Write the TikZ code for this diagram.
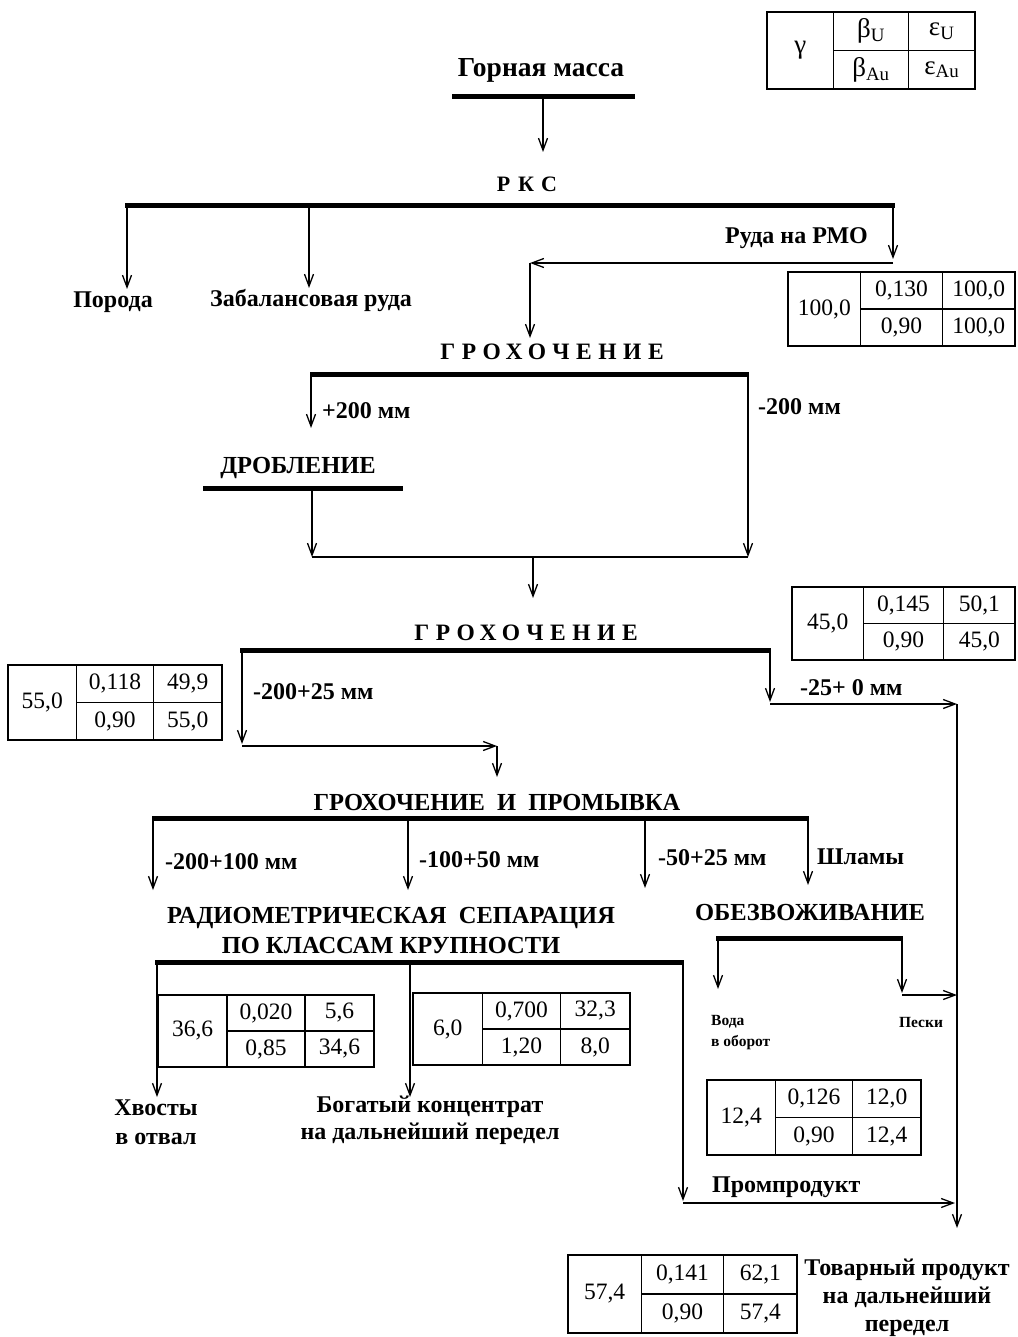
\documentclass[tikz,border=0pt]{standalone}
\usepackage{fontspec}
\setmainfont{Liberation Serif}
\usetikzlibrary{arrows.meta,calc}

\newcommand\datatable[8]{%
 \coordinate (#1-nw) at #2; \coordinate (#1-se) at #3;
 \coordinate (#1-a) at ($(#1-nw)!0.32!(#1-se)$);
 \coordinate (#1-b) at ($(#1-nw)!0.68!(#1-se)$);
 \coordinate (#1-m) at ($(#1-nw)!0.5!(#1-se)$);
 \coordinate (#1-c1) at ($(#1-nw)!0.16!(#1-se)$);
 \coordinate (#1-c2) at ($(#1-nw)!0.50!(#1-se)$);
 \coordinate (#1-c3) at ($(#1-nw)!0.84!(#1-se)$);
 \coordinate (#1-r1) at ($(#1-nw)!0.25!(#1-se)$);
 \coordinate (#1-r2) at ($(#1-nw)!0.75!(#1-se)$);
 \draw[tb] (#1-nw) rectangle (#1-se);
 \draw[tb] (#1-a |- #1-nw) -- (#1-a |- #1-se);
 \draw[tb] (#1-b |- #1-nw) -- (#1-b |- #1-se);
 \draw[tb] (#1-a |- #1-m) -- (#1-se |- #1-m);
 \node[num] (#1-g) at (#1-c1 |- #1-m) {#4};
 \node[num] (#1-bu) at (#1-c2 |- #1-r1) {#5};
 \node[num] (#1-eu) at (#1-c3 |- #1-r1) {#6};
 \node[num] (#1-ba) at (#1-c2 |- #1-r2) {#7};
 \node[num] (#1-ea) at (#1-c3 |- #1-r2) {#8};
}

\begin{document}
\begin{tikzpicture}[x=1pt,y=-1pt,
  lbl/.style={font=\bfseries\fontsize{24}{27}\selectfont, inner sep=0pt},
  small/.style={font=\bfseries\fontsize{15.5}{21}\selectfont, inner sep=0pt, align=left},
  ttl/.style={font=\bfseries\fontsize{24.5}{30}\selectfont, inner sep=0pt, align=center},
  spaced/.style={font=\bfseries\fontsize{23.5}{26}\selectfont\addfontfeature{LetterSpace=28}, inner sep=0pt},
  num/.style={font=\fontsize{23.5}{26}\selectfont, inner sep=0pt},
  bar/.style={line width=5pt},
  ln/.style={line width=1.3pt},
  tb/.style={line width=1.3pt},
  flow/.style={line width=1.3pt, -{Straight Barb[length=12pt,width=9pt]}}]
\useasboundingbox (0,0) rectangle (1017,1337);

% legend
\begin{scope}[num/.append style={font=\fontsize{27}{30}\selectfont}]
\datatable{lg}{(767,12)}{(975,89)}{γ}{β\textsubscript{U}}{ε\textsubscript{U}}{β\textsubscript{Au}}{ε\textsubscript{Au}}
\end{scope}

% Gornaya massa
\node[lbl, font=\bfseries\fontsize{27.5}{30}\selectfont] (gm) at (541,70) {Горная масса};
\coordinate (b1w) at (452,97); \coordinate (b1e) at (635,97);
\draw[bar] (b1w) -- (b1e);
\coordinate (b1o) at (543,97); \coordinate (rksin) at (543,152);
\draw[flow] (b1o) -- (rksin);

% RKS
\node[spaced, font=\bfseries\fontsize{22}{26}\selectfont\addfontfeature{LetterSpace=35}] (rks) at (527,184) {РКС};
\coordinate (b2w) at (125,206); \coordinate (b2e) at (895,206);
\draw[bar] (b2w) -- (b2e);
\coordinate (b2a) at (127,206); \coordinate (b2b) at (309,206); \coordinate (b2c) at (893,206);
\node[lbl] (por) at (113,302) {Порода};
\node[lbl] (zab) at (311,300) {Забалансовая руда};
\coordinate (pora) at (127,289); \coordinate (zaba) at (309,288);
\draw[flow] (b2a) -- (pora);
\draw[flow] (b2b) -- (zaba);
\node[lbl, anchor=east] (rmo) at (868,238) {Руда на РМО};
\coordinate (rmo1) at (893,259); \coordinate (rmo2) at (893,263); \coordinate (rmo3) at (530,263);
\coordinate (gr1in) at (530,338);
\draw[flow] (b2c) -- (rmo1);
\draw[flow] (rmo2) -- (rmo3);
\draw[flow] (rmo3) -- (gr1in);

\datatable{ta}{(788,272)}{(1015,346)}{100,0}{0,130}{100,0}{0,90}{100,0}

% Grokhochenie 1
\node[spaced] (gr1) at (552,352) {ГРОХОЧЕНИЕ};
\coordinate (b3w) at (310,374); \coordinate (b3e) at (749,374);
\draw[bar] (b3w) -- (b3e);
\coordinate (b3a) at (311,374); \coordinate (b3b) at (748,374);
\coordinate (p200) at (311,428);
\draw[flow] (b3a) -- (p200);
\node[lbl, anchor=west] (lp200) at (322,411) {+200 мм};
\coordinate (m200) at (748,557);
\draw[flow] (b3b) -- (m200);
\node[lbl, anchor=west] (lm200) at (758,407) {-200 мм};

% Droblenie
\node[ttl] (drob) at (298,468) {ДРОБЛЕНИЕ};
\coordinate (b4w) at (203,488); \coordinate (b4e) at (403,488);
\draw[bar] (b4w) -- (b4e);
\coordinate (b4o) at (312,488); \coordinate (j1) at (312,557);
\draw[flow] (b4o) -- (j1);
\coordinate (j2) at (748,557);
\draw[ln] (j1) -- (j2);
\coordinate (j3) at (533,557); \coordinate (j4) at (533,598);
\draw[flow] (j3) -- (j4);

\datatable{tb}{(792,587)}{(1015,660)}{45,0}{0,145}{50,1}{0,90}{45,0}
\datatable{tc}{(8,665)}{(222,740)}{55,0}{0,118}{49,9}{0,90}{55,0}

% Grokhochenie 2
\node[spaced] (gr2) at (526,633) {ГРОХОЧЕНИЕ};
\coordinate (b5w) at (240,650); \coordinate (b5e) at (771,650);
\draw[bar] (b5w) -- (b5e);
\coordinate (b5a) at (242,650); \coordinate (k1) at (242,744);
\draw[flow] (b5a) -- (k1);
\node[lbl, anchor=west] (l20025) at (253,692) {-200+25 мм};
\coordinate (k2) at (242,746); \coordinate (k3) at (497,746); \coordinate (k4) at (497,777);
\draw[flow] (k2) -- (k3);
\draw[flow] (k3) -- (k4);
\coordinate (b5b) at (770,650); \coordinate (r1) at (770,702);
\draw[flow] (b5b) -- (r1);
\node[lbl, anchor=west] (l250) at (800,688) {-25+ 0 мм};
\coordinate (r2) at (770,704); \coordinate (r3) at (957,704); \coordinate (r4) at (957,1228);
\draw[flow] (r2) -- (r3);
\draw[flow] (r3) -- (r4);

% Grokhochenie i promyvka
\node[ttl] (gip) at (497,802) {ГРОХОЧЕНИЕ\enspace И\enspace ПРОМЫВКА};
\coordinate (b6w) at (152,818); \coordinate (b6e) at (809,818);
\draw[bar] (b6w) -- (b6e);
\coordinate (b6a) at (153,818); \coordinate (b6b) at (408,818); \coordinate (b6c) at (645,818); \coordinate (b6d) at (808,818);
\coordinate (s1) at (153,890); \coordinate (s2) at (408,890); \coordinate (s3) at (645,888); \coordinate (s4) at (808,885);
\draw[flow] (b6a) -- (s1);
\draw[flow] (b6b) -- (s2);
\draw[flow] (b6c) -- (s3);
\draw[flow] (b6d) -- (s4);
\node[lbl, anchor=west] (c1) at (165,862) {-200+100 мм};
\node[lbl, anchor=west] (c2) at (419,860) {-100+50 мм};
\node[lbl, anchor=west] (c3) at (658,858) {-50+25 мм};
\node[lbl, anchor=west] (c4) at (817,857) {Шламы};

% Radiometric separation
\node[ttl] (rad) at (391,930) {РАДИОМЕТРИЧЕСКАЯ\enspace СЕПАРАЦИЯ\\ПО КЛАССАМ КРУПНОСТИ};
\coordinate (b7w) at (155,962); \coordinate (b7e) at (684,962);
\draw[bar] (b7w) -- (b7e);
\coordinate (b7a) at (157,962); \coordinate (b7b) at (410,962); \coordinate (b7c) at (683,962);
\coordinate (t1) at (157,1097); \coordinate (t2) at (410,1097);
\draw[flow] (b7a) -- (t1);
\draw[flow] (b7b) -- (t2);
\node[ttl, font=\bfseries\fontsize{24}{29}\selectfont] (khv) at (156,1122) {Хвосты\\в отвал};
\node[ttl, font=\bfseries\fontsize{24}{27}\selectfont] (bog) at (430,1120) {Богатый концентрат\\на дальнейший передел};
\coordinate (pp1) at (683,1201); \coordinate (pp2) at (683,1203); \coordinate (pp3) at (955,1203);
\draw[flow] (b7c) -- (pp1);
\draw[flow] (pp2) -- (pp3);
\node[lbl, anchor=west] (prom) at (712,1187) {Промпродукт};

\datatable{td}{(158,995)}{(374,1067)}{36,6}{0,020}{5,6}{0,85}{34,6}
\datatable{te}{(413,993)}{(630,1065)}{6,0}{0,700}{32,3}{1,20}{8,0}

% Obezvozhivanie
\node[ttl] (obz) at (810,912) {ОБЕЗВОЖИВАНИЕ};
\coordinate (b8w) at (716,938); \coordinate (b8e) at (903,938);
\draw[bar] (b8w) -- (b8e);
\coordinate (b8a) at (718,938); \coordinate (b8b) at (902,938);
\coordinate (w1) at (718,989); \coordinate (w2) at (902,993);
\draw[flow] (b8a) -- (w1);
\draw[flow] (b8b) -- (w2);
\coordinate (w3) at (902,995); \coordinate (w4) at (957,995);
\draw[flow] (w3) -- (w4);
\node[small, anchor=west] (voda) at (711,1033) {Вода\\в оборот};
\node[small] (peski) at (921,1022) {Пески};

\datatable{tf}{(707,1080)}{(921,1155)}{12,4}{0,126}{12,0}{0,90}{12,4}
\datatable{tg}{(568,1255)}{(797,1333)}{57,4}{0,141}{62,1}{0,90}{57,4}

\node[ttl, font=\bfseries\fontsize{24}{28}\selectfont] (tov) at (907,1298) {Товарный продукт\\на дальнейший\\передел};
\end{tikzpicture}
\end{document}
